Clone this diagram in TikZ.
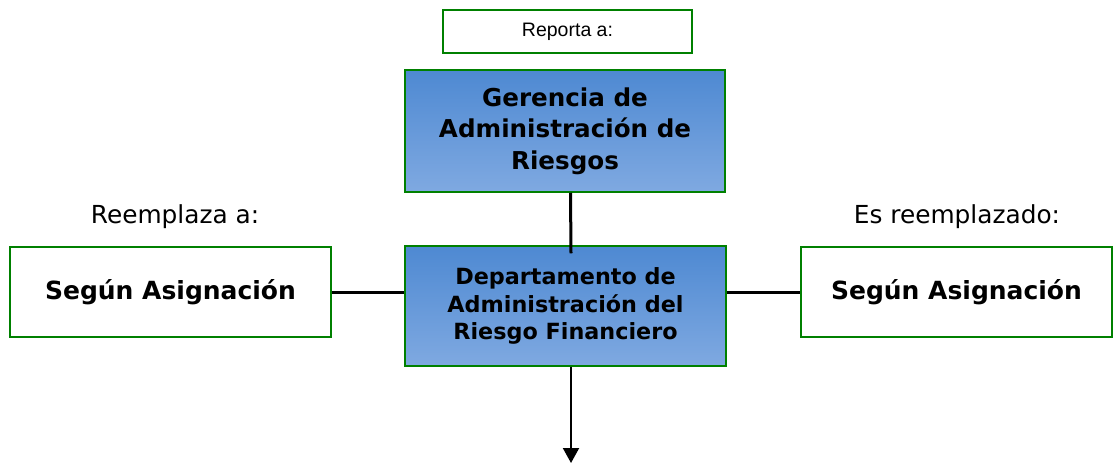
\documentclass[tikz,border=0pt]{standalone}
\usepackage{fontspec}
\setmainfont{DejaVu Sans}
\newfontfamily\arialfont{Liberation Sans}
\usetikzlibrary{arrows,arrows.meta,positioning}
\definecolor{boxgreen}{RGB}{0,128,0}
\definecolor{topblue}{RGB}{78,137,210}
\definecolor{botblue}{RGB}{127,169,225}
\tikzstyle{whitebox} = [draw=boxgreen, line width=1.5pt, fill=white, inner sep=0pt, align=center]
\tikzstyle{bluebox} = [draw=boxgreen, line width=1.5pt, top color=topblue, bottom color=botblue, inner sep=0pt, align=center, font=\bfseries]
\tikzstyle{link} = [line width=3pt]
\tikzstyle{arrow} = [line width=2pt,-{Triangle[length=15pt,width=16pt]}]

\begin{document}
\begin{tikzpicture}[x=1pt,y=-1pt]
            \useasboundingbox (0,0) rectangle (1113,464);
            % cajas
            \node[whitebox, minimum width=249pt, minimum height=43pt, font=\arialfont\fontsize{19.5}{23}\selectfont] (reporta) at (567.5,31.5) {Reporta a:};
            \node[bluebox, minimum width=320pt, minimum height=122pt, font=\bfseries\fontsize{24.6}{31.5}\selectfont] (gerencia) at (565,131) {Gerencia de\\Administración de\\Riesgos};
            \node[bluebox, minimum width=321pt, minimum height=120pt, font=\bfseries\fontsize{22.3}{27.5}\selectfont] (depto) at (565.5,306) {Departamento de\\Administración del\\Riesgo Financiero};
            \node[whitebox, minimum width=321pt, minimum height=90pt, font=\bfseries\fontsize{25}{29}\selectfont] (izq) at (170.5,292) {Según Asignación};
            \node[whitebox, minimum width=311pt, minimum height=90pt, font=\bfseries\fontsize{25}{29}\selectfont] (der) at (956.5,292) {Según Asignación};
            % textos
            \node[font=\fontsize{24.8}{29}\selectfont] (reemplaza) at (175,217) {Reemplaza a:};
            \node[font=\fontsize{24.8}{29}\selectfont] (reemplazado) at (957,217) {Es reemplazado:};
            % lineas
            \draw[link] ([xshift=5.5pt]gerencia.south) -- ([xshift=5.5pt,yshift=-8pt]depto.north);
            \draw[link] (izq.east) -- (depto.west |- izq.east);
            \draw[link] (depto.east |- der.west) -- (der.west);
            \coordinate (fin) at (571,463);
            \draw[arrow] ([xshift=5.5pt]depto.south) -- (fin);
        \end{tikzpicture}
\end{document}
